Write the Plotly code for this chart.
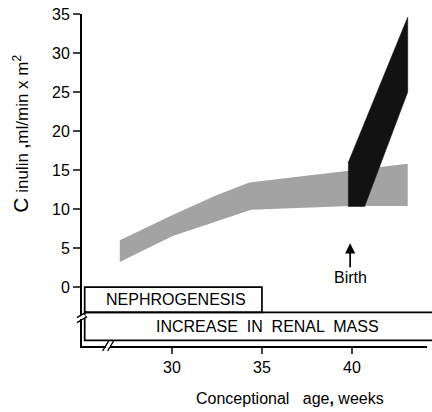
import plotly.graph_objects as go

# ---- data ----
gray_upper_x = [27.1, 30.0, 32.5, 34.3, 39.8, 43.1]
gray_upper_y = [6.0, 9.2, 11.8, 13.4, 14.9, 15.8]
gray_lower_x = [27.1, 30.0, 34.4, 39.9, 43.1]
gray_lower_y = [3.2, 6.5, 9.9, 10.4, 10.4]

black_x = [39.8, 39.8, 43.1, 43.1, 40.7]
black_y = [10.3, 16.0, 34.6, 25.0, 10.3]

birth_week = 39.9
y_ticks = [0, 5, 10, 15, 20, 25, 30, 35]
x_ticks = [30, 35, 40]

x_range = [25.0, 44.17]
y_range = [-7.56, 35.0]

nephro_box = (25.15, 35.0, 0.0, -3.25)       # x0, x1, y0, y1
renal_box_y = (-3.25, -6.85)

FONT = "Liberation Sans"

fig = go.Figure()

# gray band
fig.add_trace(go.Scatter(
    x=gray_upper_x + gray_lower_x[::-1],
    y=gray_upper_y + gray_lower_y[::-1],
    fill="toself", fillcolor="#a3a3a3", mode="lines",
    line=dict(width=0, color="#a3a3a3"), hoverinfo="skip", showlegend=False))

# black band
fig.add_trace(go.Scatter(
    x=black_x, y=black_y, fill="toself", fillcolor="#121212", mode="lines",
    line=dict(width=0.5, color="#121212"), hoverinfo="skip", showlegend=False))

# boxes
x_span = x_range[1] - x_range[0]
fig.add_shape(type="rect", xref="x", yref="y",
              x0=nephro_box[0], x1=nephro_box[1], y0=nephro_box[2], y1=nephro_box[3],
              line=dict(color="black", width=1.7), fillcolor="rgba(0,0,0,0)")
fig.add_shape(type="rect", xref="x domain", yref="y",
              x0=(nephro_box[0] - x_range[0]) / x_span, x1=1.03,
              y0=renal_box_y[0], y1=renal_box_y[1],
              line=dict(color="black", width=1.7), fillcolor="rgba(0,0,0,0)")

fig.add_annotation(x=26.2, y=(nephro_box[2] + nephro_box[3]) / 2, xref="x", yref="y",
                   text="NEPHROGENESIS", showarrow=False, xanchor="left", yanchor="middle",
                   font=dict(family=FONT, size=16, color="black"))
fig.add_annotation(x=35.3, y=sum(renal_box_y) / 2, xref="x", yref="y",
                   text="INCREASE  IN  RENAL  MASS", showarrow=False, yanchor="middle",
                   font=dict(family=FONT, size=16, color="black"))

# y-axis break
brk_y = -3.85
fig.add_shape(type="rect", xref="x domain", yref="y", xsizemode="pixel", ysizemode="pixel",
              xanchor=0, yanchor=brk_y, x0=-3, x1=3, y0=-2, y1=2,
              line=dict(width=0), fillcolor="white", layer="above")
for dy in (-2.5, 2.5):
    fig.add_shape(type="line", xref="x domain", yref="y", xsizemode="pixel", ysizemode="pixel",
                  xanchor=0, yanchor=brk_y, x0=-5, x1=5, y0=dy - 3, y1=dy + 3,
                  line=dict(color="black", width=1.4))

# x-axis break
brk_x = 26.45
fig.add_shape(type="rect", xref="x", yref="y domain", xsizemode="pixel", ysizemode="pixel",
              xanchor=brk_x, yanchor=0, x0=-2, x1=2, y0=-3, y1=3,
              line=dict(width=0), fillcolor="white", layer="above")
for dx in (-2.5, 2.5):
    fig.add_shape(type="line", xref="x", yref="y domain", xsizemode="pixel", ysizemode="pixel",
                  xanchor=brk_x, yanchor=0, x0=dx - 3, x1=dx + 3, y0=-5, y1=5,
                  line=dict(color="black", width=1.4))

# birth arrow with label
fig.add_annotation(x=birth_week, y=5.6, xref="x", yref="y", text="Birth",
                   showarrow=True, ax=0, ay=34, arrowhead=2, arrowsize=1.2,
                   arrowwidth=1.7, arrowcolor="black", standoff=0,
                   font=dict(family=FONT, size=16, color="black"))

# axis titles
fig.add_annotation(x=36.55, y=-0.157, xref="x", yref="paper", yanchor="middle",
                   text="Conceptional   age<b>,</b> weeks", showarrow=False,
                   font=dict(family=FONT, size=16, color="black"))
fig.add_annotation(x=-0.178, y=19.6, xref="paper", yref="y", textangle=-90,
                   xanchor="center", yanchor="middle",
                   text="<span style='font-size:21px'>C</span> inulin <b>,</b>ml/min x m<sup>2</sup>",
                   showarrow=False, font=dict(family=FONT, size=17, color="black"))

fig.update_xaxes(range=x_range, tickvals=x_ticks, ticks="outside", ticklen=6, tickwidth=1.7,
                 showline=True, linewidth=1.9, linecolor="black", showgrid=False, zeroline=False,
                 tickfont=dict(family=FONT, size=16, color="black"), fixedrange=True)
fig.update_yaxes(range=y_range, tickvals=y_ticks, ticks="outside", ticklen=7, tickwidth=1.7,
                 showline=True, linewidth=1.9, linecolor="black", showgrid=False, zeroline=False,
                 tickfont=dict(family=FONT, size=16, color="black"), fixedrange=True)

fig.update_layout(width=432, height=412, margin=dict(l=82, r=5, t=14, b=66),
                  plot_bgcolor="white", paper_bgcolor="white", showlegend=False)

fig.write_html("out.html")
